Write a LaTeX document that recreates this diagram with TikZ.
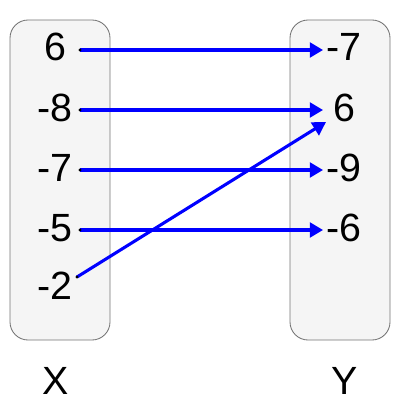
\documentclass[tikz,border=0pt]{standalone}
\usepackage{fontspec}
\setmainfont{Liberation Sans}
\usetikzlibrary{arrows.meta,positioning}

\begin{document}
\begin{tikzpicture}[x=0.025cm,y=-0.025cm,
    setbox/.style={draw=gray!90!black,fill=gray!8,rounded corners=0.45cm,line width=0.6pt},
    num/.style={font=\fontsize{28}{32}\selectfont,inner sep=0pt},
    mapto/.style={blue,line width=2.2pt,-{Triangle[length=0.33cm,width=0.37cm]}}]
 \useasboundingbox (0,0) rectangle (400,400);
 \draw[setbox] (10,20) rectangle (110,340);
 \draw[setbox] (290,20) rectangle (390,340);
 % domain and codomain values
 \foreach \N/\V/\Y in {a/6/47,b/-8/108,c/-7/168,d/-5/228,e/-2/286}
  {\node[num] (x\N) at (55,\Y) {\V};}
 \foreach \N/\V/\Y in {a/-7/47,b/6/108,c/-9/168,d/-6/228}
  {\node[num] (y\N) at (344,\Y) {\V};}
 \node[num] (X) at (56,381) {X};
 \node[num] (Y) at (345,381) {Y};
 % arrow ends
 \foreach \N/\Y in {a/50,b/110,c/170,d/230}
  {\coordinate (p\N) at (80,\Y); \coordinate (q\N) at (323,\Y);}
 \coordinate (pe) at (77,277);
 \coordinate (qe) at (326,122);
 \path[mapto] foreach \X/\Z in {a/a,b/b,c/c,d/d,e/e} {(p\X) edge (q\Z)};
 \foreach \N in {a,b,c,d,e} {\fill (p\N) circle (1.6);}
\end{tikzpicture}
\end{document}
